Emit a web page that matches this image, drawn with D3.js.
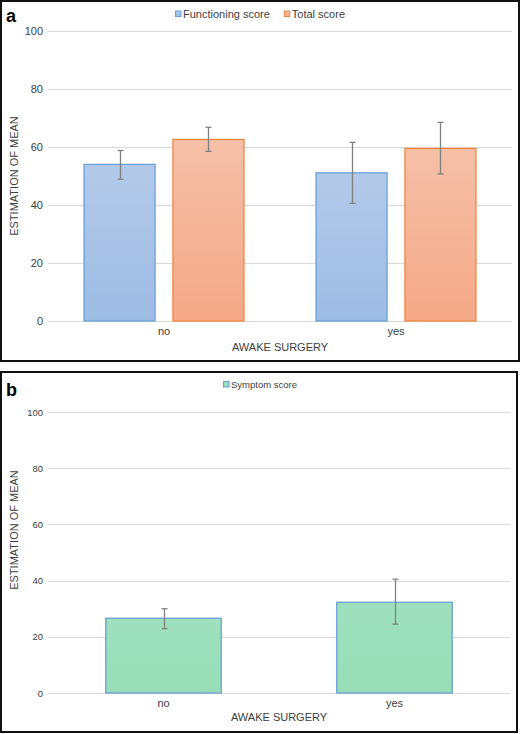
<!DOCTYPE html>
<html>
<head>
<meta charset="utf-8">
<script src="https://cdn.jsdelivr.net/npm/d3@7"></script>
<style>
html,body{margin:0;padding:0;background:#fff;}
svg{display:block;font-family:"Liberation Sans",Arial,sans-serif;}
</style>
</head>
<body>
<svg id="chart" width="521" height="734"></svg>
<script>
// ---- data ----
const categories = ["no", "yes"];
const yTicks = [0, 20, 40, 60, 80, 100];

const seriesA = ["Functioning score", "Total score"];
const functioningMean = [54.0, 51.1];
const functioningLow  = [48.9, 40.6];
const functioningHigh = [58.8, 61.6];
const totalMean = [62.6, 59.5];
const totalLow  = [58.5, 50.7];
const totalHigh = [66.8, 68.5];

const seriesB = ["Symptom score"];
const symptomMean = [26.6, 32.3];
const symptomLow  = [22.9, 24.5];
const symptomHigh = [30.0, 40.5];

const xTitle = "AWAKE SURGERY";
const yTitle = "ESTIMATION OF MEAN";

// ---- drawing ----
const FONT = "'Liberation Sans', Arial, sans-serif";
const svg = d3.select("#chart");
const defs = svg.append("defs");
function grad(id, top, bottom) {
  const g = defs.append("linearGradient").attr("id", id)
    .attr("x1", 0).attr("y1", 0).attr("x2", 0).attr("y2", 1);
  g.append("stop").attr("offset", "0%").attr("stop-color", top);
  g.append("stop").attr("offset", "100%").attr("stop-color", bottom);
}
grad("gBlue", "#b3c9e9", "#9dbce4");
grad("gOrange", "#f5c0a8", "#f4a886");
grad("gGreen", "#9fe0bf", "#97deb8");

const tickColor = "#404040";
const textColor = "#404040";
const gridColor = "#d9d9d9";
const errColor = "#808080";

function panel(opts) {
  const g = svg.append("g");
  g.append("rect").attr("x", opts.box[0]).attr("y", opts.box[1])
    .attr("width", opts.box[2]).attr("height", opts.box[3])
    .attr("fill", "none").attr("stroke", "#111").attr("stroke-width", 2);
  g.append("text").attr("x", 6).attr("y", opts.letterY)
    .attr("font-size", 18).attr("font-weight", "bold").attr("fill", "#000")
    .attr("font-family", FONT).text(opts.letter);

  const y = d3.scaleLinear().domain([0, 100]).range(opts.yRange);
  const x0 = d3.scaleBand().domain(categories).range(opts.xRange)
    .paddingInner(0).paddingOuter(0);

  g.append("g").selectAll("line").data(yTicks).join("line")
    .attr("x1", opts.xRange[0]).attr("x2", opts.xRange[1])
    .attr("y1", d => Math.round(y(d)) + 0.5).attr("y2", d => Math.round(y(d)) + 0.5)
    .attr("stroke", gridColor).attr("stroke-width", 1);

  const yAxis = d3.axisLeft(y).tickValues(yTicks).tickSize(0).tickPadding(0);
  const ya = g.append("g").attr("transform", `translate(${opts.xRange[0] - 5},0)`).call(yAxis);
  ya.select(".domain").remove();
  ya.selectAll("text").attr("font-size", opts.tickFont).attr("fill", tickColor)
    .attr("font-family", FONT);

  const xAxis = d3.axisBottom(x0).tickSize(0).tickPadding(0);
  const xa = g.append("g").attr("transform", `translate(0,${opts.yRange[0] + 6})`).call(xAxis);
  xa.select(".domain").remove();
  xa.selectAll("text").attr("font-size", 11).attr("fill", tickColor)
    .attr("font-family", FONT);

  const x1 = d3.scaleBand().domain(opts.series.map(s => s.name))
    .range([0, x0.bandwidth()]).paddingInner(opts.padIn).paddingOuter(opts.padOut);
  opts.series.forEach(s => {
    const sg = g.append("g");
    sg.selectAll("rect").data(categories).join("rect")
      .attr("x", (c) => x0(c) + x1(s.name) + 0.5)
      .attr("y", (c, i) => y(s.mean[i]))
      .attr("width", x1.bandwidth() - 1)
      .attr("height", (c, i) => y(0) - y(s.mean[i]))
      .attr("fill", `url(#${s.grad})`)
      .attr("stroke", s.stroke).attr("stroke-width", 1.3);
    categories.forEach((c, i) => {
      const cx = Math.round(x0(c) + x1(s.name) + x1.bandwidth() / 2) + 0.5;
      sg.append("line").attr("x1", cx).attr("x2", cx)
        .attr("y1", y(s.low[i])).attr("y2", y(s.high[i]))
        .attr("stroke", errColor).attr("stroke-width", 1.3);
      [s.low[i], s.high[i]].forEach(v => {
        sg.append("line").attr("x1", cx - 3).attr("x2", cx + 3)
          .attr("y1", y(v)).attr("y2", y(v))
          .attr("stroke", errColor).attr("stroke-width", 1.3);
      });
    });
  });

  g.append("text").attr("x", (opts.xRange[0] + opts.xRange[1]) / 2).attr("y", opts.xTitleY)
    .attr("text-anchor", "middle").attr("font-size", 11).attr("fill", textColor)
    .attr("font-family", FONT).text(xTitle);
  g.append("text").attr("transform", `translate(18,${opts.yTitleCY}) rotate(-90)`)
    .attr("text-anchor", "middle").attr("font-size", 11).attr("fill", textColor)
    .attr("font-family", FONT).text(yTitle);

  let lx = opts.legendX;
  opts.series.forEach(s => {
    g.append("rect").attr("x", lx + 0.5).attr("y", opts.legendY - 6.5)
      .attr("width", 5.5).attr("height", 5.5)
      .attr("fill", `url(#${s.grad})`).attr("stroke", s.stroke).attr("stroke-width", 1);
    const t = g.append("text").attr("x", lx + 8).attr("y", opts.legendY)
      .attr("font-size", opts.legendFont).attr("fill", textColor)
      .attr("font-family", FONT).text(s.name);
    lx += 8 + t.node().getComputedTextLength() + 14;
  });
}

panel({
  box: [1, 1, 518, 360], letter: "a", letterY: 21.5,
  yRange: [321, 31], xRange: [48, 512], tickFont: 11,
  padIn: 0.19, padOut: 0.4,
  series: [
    {name: seriesA[0], mean: functioningMean, low: functioningLow, high: functioningHigh, grad: "gBlue", stroke: "#6a9fd8"},
    {name: seriesA[1], mean: totalMean, low: totalLow, high: totalHigh, grad: "gOrange", stroke: "#ef8540"}
  ],
  xTitleY: 351, yTitleCY: 176, legendX: 175, legendY: 17.5, legendFont: 11
});

panel({
  box: [1, 372, 516, 360], letter: "b", letterY: 396,
  yRange: [693, 412], xRange: [48, 510], tickFont: 9.5,
  padIn: 0.496, padOut: 0.248,
  series: [
    {name: seriesB[0], mean: symptomMean, low: symptomLow, high: symptomHigh, grad: "gGreen", stroke: "#6a9fd8"}
  ],
  xTitleY: 721, yTitleCY: 530, legendX: 223, legendY: 388, legendFont: 9.5
});
</script>
</body>
</html>
